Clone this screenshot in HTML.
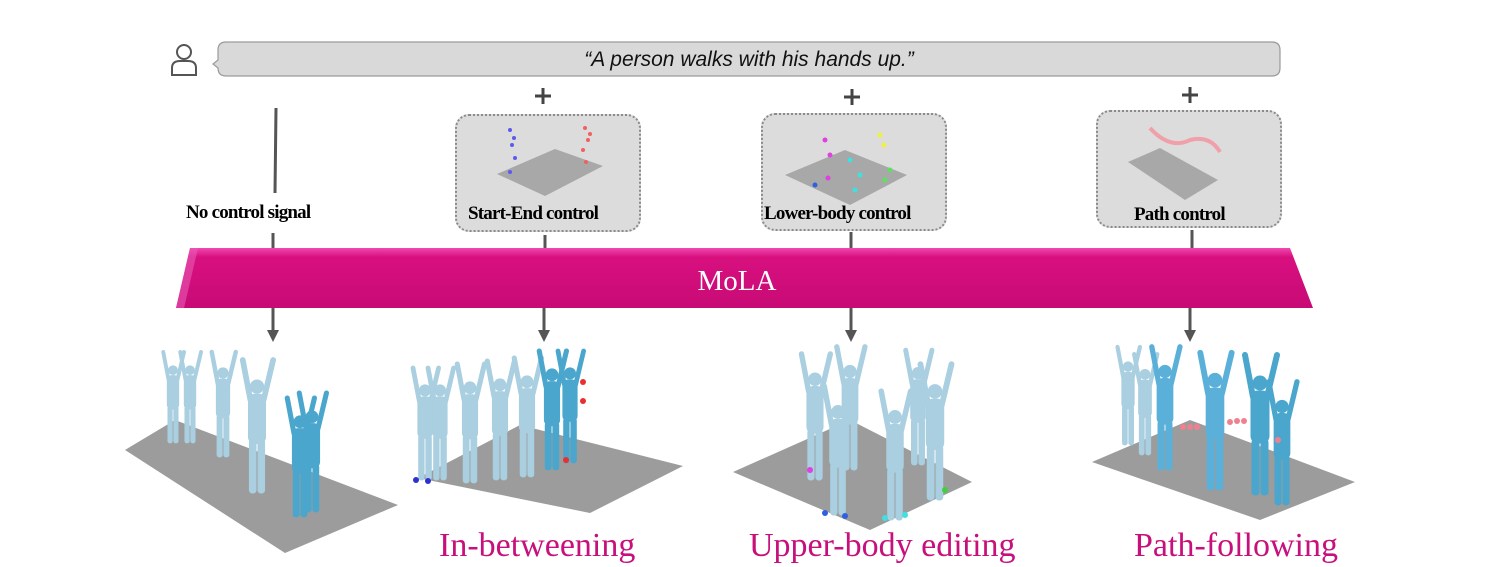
<!DOCTYPE html>
<html><head><meta charset="utf-8"><style>
body{margin:0;width:1512px;height:567px;background:#fff;overflow:hidden;position:relative;font-family:"Liberation Serif",serif}
.lbl{position:absolute;font-family:"Liberation Serif",serif;font-weight:bold;font-size:19px;color:#000;letter-spacing:-0.8px;white-space:nowrap}
.res{position:absolute;font-family:"Liberation Serif",serif;font-size:34px;color:#c8107c;white-space:nowrap}
.box{position:absolute;background:#dcdcdc;border:2px dotted #8a8a8a;border-radius:14px}
</style></head><body>
<svg width="1512" height="567" style="position:absolute;left:0;top:0">
<defs>
<linearGradient id="bar" x1="0" y1="0" x2="0" y2="1"><stop offset="0" stop-color="#f048b0"/><stop offset="0.15" stop-color="#d8107f"/><stop offset="1" stop-color="#c80a75"/></linearGradient>
<g id="fig">
<circle cx="0" cy="-112" r="7"/>
<rect x="-9" y="-104" width="18" height="52" rx="7"/>
<rect x="-8" y="-56" width="7" height="56" rx="3"/>
<rect x="1" y="-56" width="7" height="56" rx="3"/>
<line x1="-7" y1="-98" x2="-15" y2="-140" stroke-width="6" stroke-linecap="round"/>
<line x1="7" y1="-98" x2="17" y2="-140" stroke-width="6" stroke-linecap="round"/>
</g>
</defs>
<circle cx="184" cy="52" r="7" fill="none" stroke="#555" stroke-width="2"/>
<path d="M172,75 L172,68 Q172,61 180,61 L188,61 Q196,61 196,68 L196,75 Z" fill="none" stroke="#555" stroke-width="2"/>
<path d="M226,42 L1272,42 Q1280,42 1280,50 L1280,68 Q1280,76 1272,76 L226,76 Q218,76 218,68 L213,64 L218,60 L218,50 Q218,42 226,42 Z" fill="#d9d9d9" stroke="#9a9a9a" stroke-width="1.2"/>
<text x="749" y="66" text-anchor="middle" font-family="Liberation Sans" font-style="italic" font-size="21" fill="#111">“A person walks with his hands up.”</text>
<g stroke="#444" stroke-width="3">
<line x1="543" y1="88" x2="543" y2="104"/><line x1="535" y1="96" x2="551" y2="96"/>
<line x1="852" y1="89" x2="852" y2="105"/><line x1="844" y1="97" x2="860" y2="97"/>
<line x1="1190" y1="87" x2="1190" y2="103"/><line x1="1182" y1="95" x2="1198" y2="95"/>
</g>
<g stroke="#555" stroke-width="3">
<line x1="276" y1="108" x2="275" y2="193"/>
<line x1="273" y1="233" x2="273" y2="250"/>
<line x1="545" y1="235" x2="545" y2="250"/>
<line x1="851" y1="232" x2="851" y2="250"/>
<line x1="1192" y1="230" x2="1192" y2="250"/>
<line x1="273" y1="308" x2="273" y2="332"/>
<line x1="544" y1="308" x2="544" y2="332"/>
<line x1="851" y1="308" x2="851" y2="332"/>
<line x1="1190" y1="308" x2="1190" y2="332"/>
</g>
<g fill="#555">
<path d="M267,330 L279,330 L273,342 Z"/>
<path d="M538,330 L550,330 L544,342 Z"/>
<path d="M845,330 L857,330 L851,342 Z"/>
<path d="M1184,330 L1196,330 L1190,342 Z"/>
</g>
<polygon points="190,248 1290,248 1313,308 176,308" fill="url(#bar)"/>
<polygon points="190,248 198,248 184,308 176,308" fill="#e85ab5" opacity="0.6"/>
<text x="737" y="290" text-anchor="middle" font-family="Liberation Serif" font-size="29" fill="#fff">MoLA</text>
<polygon points="125,450 175,420 398,505 285,553" fill="#9c9c9c"/>
<polygon points="418,478 520,425 683,466 590,513" fill="#9c9c9c"/>
<polygon points="733,472 850,420 972,482 870,530" fill="#9c9c9c"/>
<polygon points="1092,462 1190,420 1355,482 1260,520" fill="#9c9c9c"/>
<g fill="#a9cfe0" stroke="#a9cfe0">
<g transform="translate(173,443) scale(0.65)"><use href="#fig"/></g>
<g transform="translate(190,443) scale(0.65)"><use href="#fig"/></g>
<g transform="translate(223,457) scale(0.75)"><use href="#fig"/></g>
<g transform="translate(257,493) scale(0.95)"><use href="#fig"/></g>
</g>
<g fill="#4aa6cc" stroke="#4aa6cc">
<g transform="translate(300,517) scale(0.85)"><use href="#fig"/></g>
<g transform="translate(312,512) scale(0.85)"><use href="#fig"/></g>
</g>
<g fill="#a9cfe0" stroke="#a9cfe0">
<g transform="translate(425,480) scale(0.8)"><use href="#fig"/></g>
<g transform="translate(440,480) scale(0.8)"><use href="#fig"/></g>
<g transform="translate(470,483) scale(0.85)"><use href="#fig"/></g>
<g transform="translate(500,480) scale(0.85)"><use href="#fig"/></g>
<g transform="translate(527,477) scale(0.85)"><use href="#fig"/></g>
</g>
<g fill="#4aa6cc" stroke="#4aa6cc">
<g transform="translate(552,470) scale(0.85)"><use href="#fig"/></g>
<g transform="translate(570,463) scale(0.8)"><use href="#fig"/></g>
</g>
<g fill="#e83030"><circle cx="583" cy="382" r="3"/><circle cx="583" cy="401" r="3"/><circle cx="566" cy="460" r="3"/></g>
<g fill="#3030d0"><circle cx="416" cy="480" r="3"/><circle cx="428" cy="481" r="3"/></g>
<g fill="#a9cfe0" stroke="#a9cfe0">
<g transform="translate(815,480) scale(0.9)"><use href="#fig"/></g>
<g transform="translate(850,470) scale(0.88)"><use href="#fig"/></g>
<g transform="translate(918,465) scale(0.82)"><use href="#fig"/></g>
<g transform="translate(838,515) scale(0.92)"><use href="#fig"/></g>
<g transform="translate(935,500) scale(0.97)"><use href="#fig"/></g>
<g transform="translate(895,520) scale(0.92)"><use href="#fig"/></g>
</g>
<g><circle cx="810" cy="470" r="3" fill="#e040e0"/><circle cx="825" cy="513" r="3" fill="#3060e0"/><circle cx="845" cy="516" r="3" fill="#3060e0"/><circle cx="945" cy="490" r="3" fill="#40d040"/><circle cx="885" cy="518" r="3" fill="#40e0e0"/><circle cx="905" cy="515" r="3" fill="#40e0e0"/></g>
<g fill="#a9cfe0" stroke="#a9cfe0">
<g transform="translate(1128,445) scale(0.7)"><use href="#fig"/></g>
<g transform="translate(1145,455) scale(0.72)"><use href="#fig"/></g>
</g>
<g fill="#5ab0d8" stroke="#5ab0d8">
<g transform="translate(1165,470) scale(0.88)"><use href="#fig"/></g>
<g transform="translate(1215,490) scale(0.98)"><use href="#fig"/></g>
</g>
<g fill="#4aa6cc" stroke="#4aa6cc">
<g transform="translate(1260,495) scale(1.0)"><use href="#fig"/></g>
<g transform="translate(1282,505) scale(0.88)"><use href="#fig"/></g>
</g>
<g fill="#f08090"><circle cx="1183" cy="427" r="3"/><circle cx="1190" cy="427" r="3"/><circle cx="1197" cy="427" r="3"/><circle cx="1230" cy="422" r="3"/><circle cx="1237" cy="421" r="3"/><circle cx="1244" cy="421" r="3"/><circle cx="1278" cy="440" r="3"/></g>
</svg>
<div class="box" style="left:455px;top:114px;width:182px;height:114px"></div>
<div class="box" style="left:761px;top:113px;width:182px;height:114px"></div>
<div class="box" style="left:1096px;top:110px;width:182px;height:114px"></div>
<svg width="1512" height="567" style="position:absolute;left:0;top:0">
<polygon points="497,174 555,149 603,166 545,196" fill="#a8a8a8"/>
<g fill="#5a5af0"><circle cx="510" cy="130" r="2"/><circle cx="514" cy="138" r="2"/><circle cx="512" cy="145" r="2"/><circle cx="515" cy="158" r="2"/><circle cx="510" cy="172" r="2"/></g>
<g fill="#f06060"><circle cx="585" cy="128" r="2"/><circle cx="590" cy="134" r="2"/><circle cx="588" cy="140" r="2"/><circle cx="586" cy="162" r="2"/><circle cx="583" cy="150" r="2"/></g>
<polygon points="785,175 845,150 907,175 850,205" fill="#a8a8a8"/>
<g fill="#e040e0"><circle cx="825" cy="140" r="2.5"/><circle cx="830" cy="155" r="2.5"/><circle cx="828" cy="178" r="2.5"/></g>
<g fill="#f0f040"><circle cx="880" cy="135" r="2.5"/><circle cx="884" cy="145" r="2.5"/></g>
<g fill="#40e0e0"><circle cx="850" cy="160" r="2.5"/><circle cx="855" cy="190" r="2.5"/><circle cx="860" cy="175" r="2.5"/></g>
<g fill="#60e060"><circle cx="885" cy="180" r="2.5"/><circle cx="890" cy="170" r="2.5"/></g>
<g fill="#3060e0"><circle cx="815" cy="185" r="2.5"/></g>
<polygon points="1128,162 1160,148 1218,180 1185,200" fill="#a8a8a8"/>
<path d="M1150,128 Q1170,150 1190,140 Q1210,135 1220,152" fill="none" stroke="#f0a0a8" stroke-width="4"/>
</svg>
<div class="lbl" style="left:186px;top:202px">No control signal</div>
<div class="lbl" style="left:468px;top:203px">Start-End control</div>
<div class="lbl" style="left:764px;top:203px">Lower-body control</div>
<div class="lbl" style="left:1134px;top:204px">Path control</div>
<div class="res" style="left:439px;top:527px">In-betweening</div>
<div class="res" style="left:749px;top:527px">Upper-body editing</div>
<div class="res" style="left:1134px;top:527px">Path-following</div>
</body></html>
